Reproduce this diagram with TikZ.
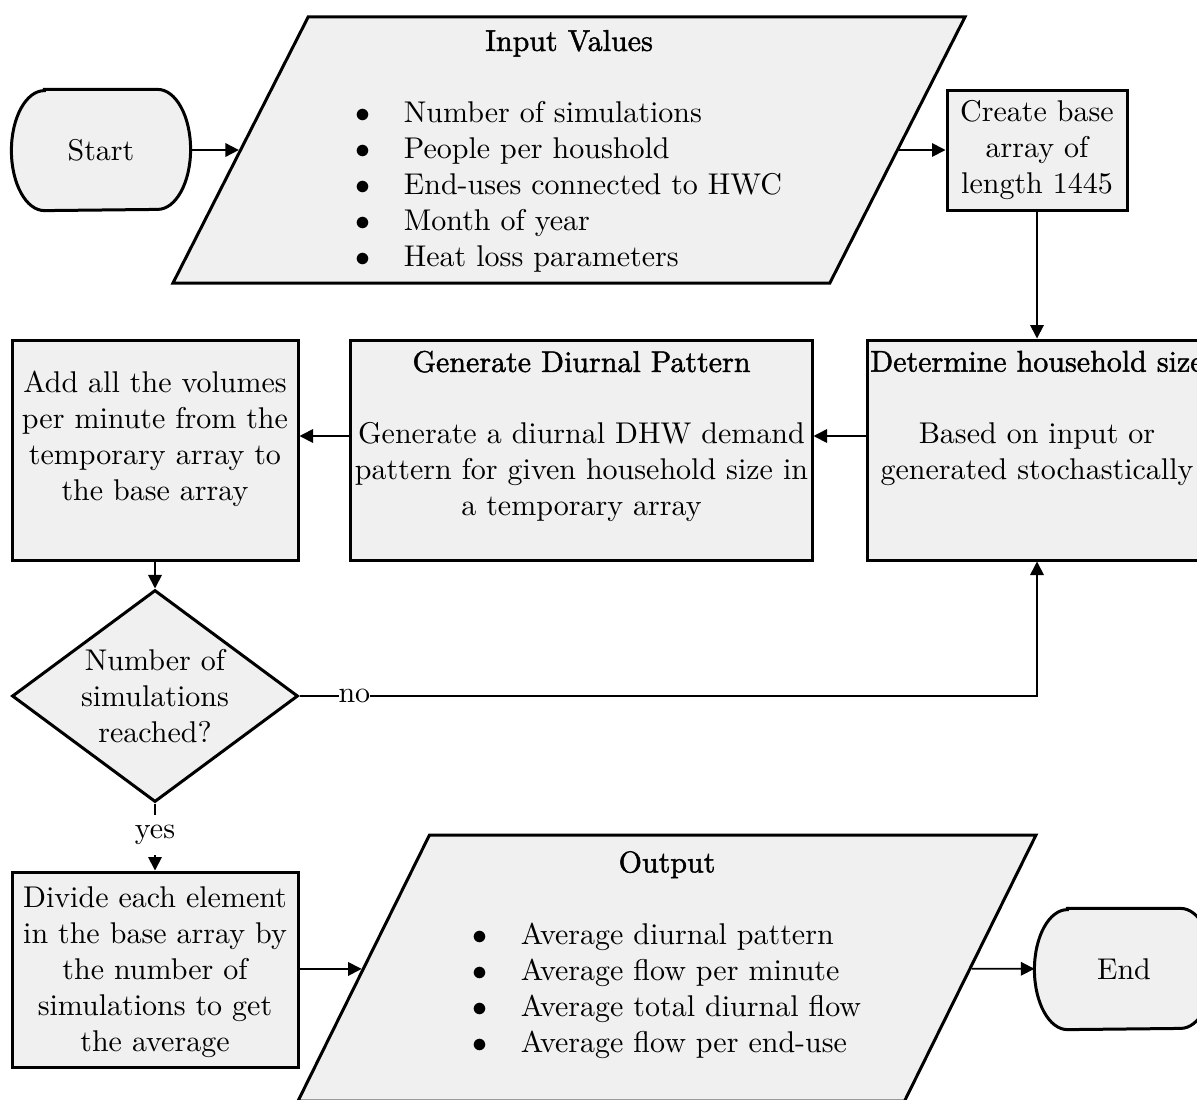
\documentclass[tikz,border=0pt]{standalone}
\usepackage{fontspec}
\newfontfamily\titlefont[FakeBold=1.5]{Latin Modern Roman}
\usetikzlibrary{shapes.geometric,arrows.meta,calc}
\definecolor{fillg}{RGB}{240,240,240}
\pgfdeclarelayer{background}
\pgfsetlayers{background,main}
\newcommand\termshape[1]{%
  \begin{pgfonlayer}{background}
    \filldraw[bordered] ([xshift=11pt]#1.north west) -- ([xshift=-11pt]#1.north east)
      arc[start angle=90,end angle=-90,x radius=11pt,y radius=20pt]
      -- ([xshift=11pt]#1.south west)
      arc[start angle=270,end angle=90,x radius=11pt,y radius=20pt] -- cycle;
  \end{pgfonlayer}}
\newcommand\topbox[4]{\parbox[c][#1][t]{#2}{\centering\vspace*{#3}#4\par}}
\tikzset{
  bordered/.style={draw=black, line width=1pt, fill=fillg},
  procbox/.style={bordered, rectangle, inner sep=0pt, align=center},
  iobox/.style={bordered, trapezium, trapezium left angle=62.1, trapezium right angle=117.9,
    trapezium stretches body, inner sep=0pt, align=center},
  decbox/.style={bordered, diamond, aspect=1.35, inner sep=0pt, align=center},
  termtext/.style={rectangle, minimum width=59.33pt, minimum height=40pt, inner sep=0pt},
  arr/.style={-{Triangle[length=4.5pt,width=4.5pt]}, line width=0.6pt},
  lbl/.style={fill=white, inner xsep=0pt, inner ysep=3.33pt},
}
\begin{document}
\begin{tikzpicture}[x=0.33333pt,y=0.33333pt]
\useasboundingbox (0,0) rectangle (1197,-1099);

\node[termtext] (start) at (101,-150) {Start};
\termshape{start}

\node[iobox, minimum width=264pt, minimum height=88.67pt] (input) at (569,-150)
 {\rule{0pt}{9.5pt}{\titlefont Input Values}\\[12pt]
  \begin{tabular}[t]{@{}l@{\hspace{11pt}}l@{}}
  $\bullet$ & Number of simulations\\
  $\bullet$ & People per houshold\\
  $\bullet$ & End-uses connected to HWC\\
  $\bullet$ & Month of year\\
  $\bullet$ & Heat loss parameters
  \end{tabular}};

\node[procbox, minimum width=60pt, minimum height=40pt] (create) at (1037,-150)
 {Create base\\array of\\length 1445};

\node[procbox] (det) at (1037,-450)
 {\topbox{73.33pt}{113.33pt}{3.6pt}{{\titlefont Determine household size}\\[12pt]Based on input or\\generated stochastically}};

\node[procbox] (gen) at (581.5,-450)
 {\topbox{73.33pt}{153.67pt}{3.6pt}{{\titlefont Generate Diurnal Pattern}\\[12pt]Generate a diurnal DHW demand\\pattern for given household size in\\a temporary array}};

\node[procbox] (add) at (155,-450)
 {\topbox{73.33pt}{95.33pt}{10.4pt}{Add all the volumes\\per minute from the\\temporary array to\\the base array}};

\node[decbox, minimum width=95.33pt, minimum height=70.67pt] (dec) at (155,-696)
 {Number of\\simulations\\reached?};

\node[procbox, minimum width=95.33pt, minimum height=65pt] (div) at (155,-969.5)
 {\rule{0pt}{8.8pt}Divide each element\\in the base array by\\the number of\\simulations to get\\the average};

\node[iobox, minimum width=246pt, minimum height=88.67pt] (output) at (667,-968)
 {\rule{0pt}{9.5pt}{\titlefont Output}\\[12pt]
  \begin{tabular}[t]{@{}l@{\hspace{11pt}}l@{}}
  $\bullet$ & Average diurnal pattern\\
  $\bullet$ & Average flow per minute\\
  $\bullet$ & Average total diurnal flow\\
  $\bullet$ & Average flow per end-use\\[9.67pt]
  \end{tabular}};

\node[termtext] (end) at (1124,-969) {End};
\termshape{end}

\draw[arr] (start) -- (input);
\draw[arr] (input) -- (create);
\draw[arr] (create) -- (det);
\draw[arr] ($(det.west)+(0,14)$) -- ($(gen.east)+(0,14)$);
\draw[arr] ($(gen.west)+(0,14)$) -- ($(add.east)+(0,14)$);
\draw[arr] (add) -- (dec);
\draw[arr] (dec.east) -| node[lbl, pos=0.0372] {no} (det.south);
\draw[arr] (dec) -- node[lbl, pos=0.47] {yes} (div);
\draw[arr] (div) -- (output);
\draw[arr] (output) -- (end);
\end{tikzpicture}
\end{document}
